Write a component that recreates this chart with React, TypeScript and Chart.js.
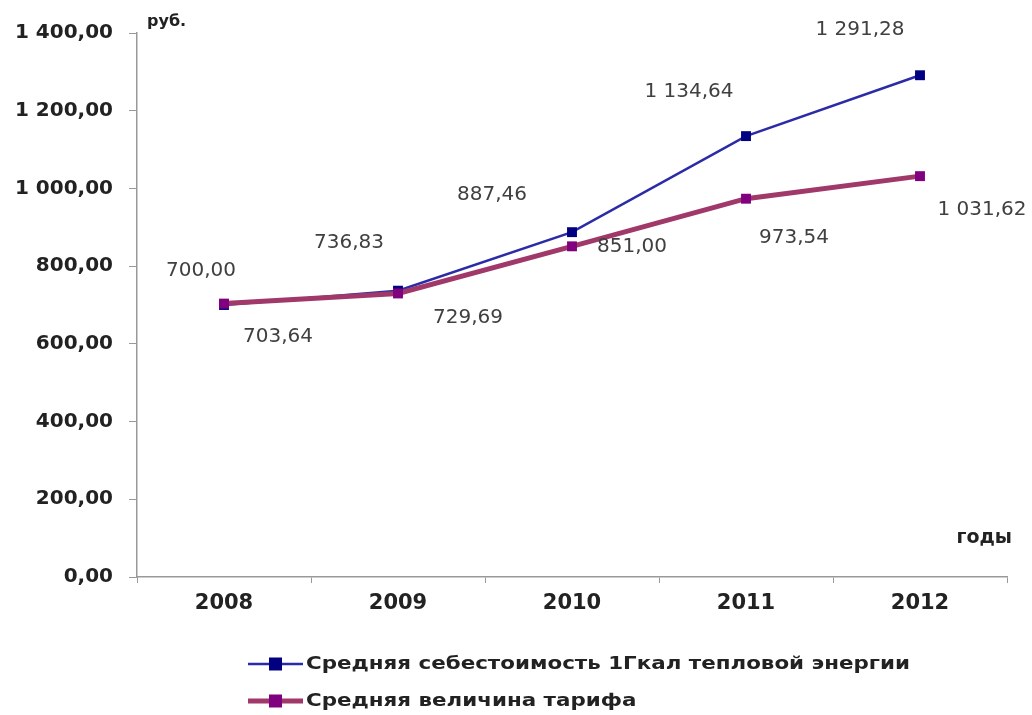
import React, { useEffect, useRef } from "react";
import { Chart, registerables } from "chart.js";

Chart.register(...registerables);

const categories = ["2008", "2009", "2010", "2011", "2012"];
const costValues = [700.0, 736.83, 887.46, 1134.64, 1291.28];
const tariffValues = [703.64, 729.69, 851.0, 973.54, 1031.62];
const seriesNames = [
  "Средняя себестоимость 1Гкал тепловой энергии",
  "Средняя величина тарифа",
];
const yUnitLabel = "руб.";
const xUnitLabel = "годы";

// label offsets (px) relative to each point
const costLabelOffsets = [
  [-23, -34],
  [-49, -48],
  [-80, -37],
  [-57, -44],
  [-60, -45],
];
const tariffLabelOffsets = [
  [54, 33],
  [70, 24],
  [60, 0],
  [48, 39],
  [62, 34],
];

const FONT = "'DejaVu Sans', 'Liberation Sans', Arial, sans-serif";

const fmt = (v: number) => {
  const s = v.toFixed(2);
  const [int, dec] = s.split(".");
  const intS = int.replace(/\B(?=(\d{3})+(?!\d))/g, " ");
  return intS + "," + dec;
};

export default function App() {
  const ref = useRef<HTMLCanvasElement | null>(null);
  useEffect(() => {
    document.body.style.margin = "0";
    const canvas = ref.current!;
    const labelsPlugin = {
      id: "customLabels",
      afterDatasetsDraw(chart: any) {
        const ctx = chart.ctx;
        ctx.save();
        ctx.font = "20px " + FONT;
        ctx.fillStyle = "#404040";
        ctx.textAlign = "center";
        ctx.textBaseline = "middle";
        chart.data.datasets.forEach((ds: any, di: number) => {
          const meta = chart.getDatasetMeta(di);
          const offs = di === 0 ? costLabelOffsets : tariffLabelOffsets;
          meta.data.forEach((el: any, i: number) => {
            ctx.fillText(fmt(ds.data[i]), el.x + offs[i][0], el.y + offs[i][1]);
          });
        });
        ctx.restore();
      },
      afterDraw(chart: any) {
        const ctx = chart.ctx;
        const area = chart.chartArea;
        ctx.save();
        ctx.fillStyle = "#222";
        ctx.font = "bold 16px " + FONT;
        ctx.textBaseline = "middle";
        ctx.textAlign = "left";
        ctx.fillText(yUnitLabel, area.left + 10, 22);
        ctx.font = "bold 19px " + FONT;
        ctx.textAlign = "right";
        ctx.fillText(xUnitLabel, 1012, 538);
        // legend
        const items = [
          { y: 664, color: "#2B2BA8", marker: "#000080", lw: 2.5 },
          { y: 701, color: "#A0386A", marker: "#800080", lw: 5 },
        ];
        ctx.font = "bold 18px " + FONT;
        ctx.textAlign = "left";
        const targetW = 604;
        const w0 = ctx.measureText(seriesNames[0]).width;
        const sx = targetW / w0;
        items.forEach((it, i) => {
          ctx.strokeStyle = it.color;
          ctx.lineWidth = it.lw;
          ctx.beginPath();
          ctx.moveTo(248, it.y);
          ctx.lineTo(303, it.y);
          ctx.stroke();
          ctx.fillStyle = it.marker;
          ctx.fillRect(269, it.y - 6.5, 13, 13);
          ctx.fillStyle = "#222";
          ctx.save();
          ctx.translate(306, it.y);
          ctx.scale(sx, 1);
          ctx.fillText(seriesNames[i], 0, 0);
          ctx.restore();
        });
        ctx.restore();
      },
    };
    const chart = new Chart(canvas, {
      type: "line",
      data: {
        labels: categories,
        datasets: [
          {
            label: seriesNames[0],
            data: costValues,
            borderColor: "#2B2BA8",
            backgroundColor: "#000080",
            borderWidth: 2.5,
            pointStyle: "rect",
            pointRadius: 7,
            pointBorderWidth: 0,
            pointBackgroundColor: "#000080",
            tension: 0,
            order: 1,
          },
          {
            label: seriesNames[1],
            data: tariffValues,
            borderColor: "#A0386A",
            backgroundColor: "#800080",
            borderWidth: 5,
            pointStyle: "rect",
            pointRadius: 7,
            pointBorderWidth: 0,
            pointBackgroundColor: "#800080",
            tension: 0,
            order: 0,
          },
        ],
      },
      options: {
        responsive: false,
        animation: false,
        layout: { padding: { top: 33, right: 25, bottom: 98, left: 0 } },
        plugins: {
          legend: { display: false },
          tooltip: { enabled: false },
        },
        scales: {
          x: {
            offset: true,
            grid: {
              display: true,
              drawOnChartArea: false,
              drawTicks: true,
              tickLength: 6,
              color: "#999",
              offset: true,
            },
            border: { display: true, color: "#999", width: 1.5 },
            ticks: {
              color: "#222",
              font: { family: FONT, size: 21, weight: "bold" },
              padding: 8,
            },
            afterFit(scale: any) {
              scale.height = 40;
            },
          },
          y: {
            min: 0,
            max: 1400,
            grid: {
              display: true,
              drawOnChartArea: false,
              drawTicks: true,
              tickLength: 8,
              color: "#999",
            },
            border: { display: true, color: "#999", width: 1.5 },
            ticks: {
              stepSize: 200,
              color: "#222",
              padding: 16,
              font: { family: FONT, size: 20, weight: "bold" },
              callback: (v: any) => fmt(Number(v)),
            },
            afterFit(scale: any) {
              scale.width = 137;
            },
          },
        },
      },
      plugins: [labelsPlugin],
    });
    return () => chart.destroy();
  }, []);
  return (
    <div style={{ width: 1032, height: 715, background: "#fff" }}>
      <canvas ref={ref} width={1032} height={715} />
    </div>
  );
}
